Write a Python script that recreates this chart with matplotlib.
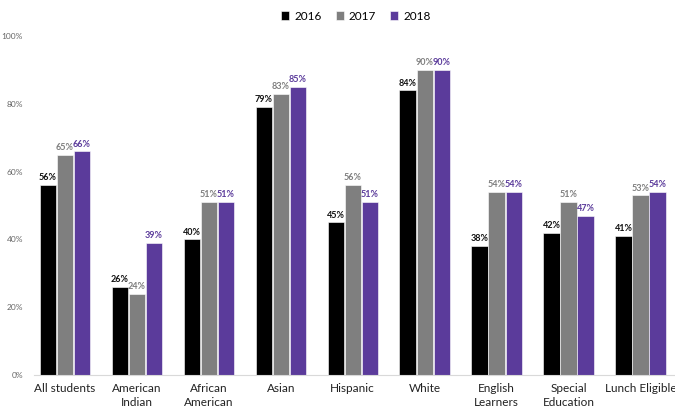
import matplotlib
matplotlib.use("Agg")
import matplotlib.pyplot as plt
import numpy as np

categories = ["All students", "American\nIndian", "African\nAmerican", "Asian", "Hispanic",
              "White", "English\nLearners", "Special\nEducation", "Lunch Eligible"]
years = ["2016", "2017", "2018"]
v2016 = [56, 26, 40, 79, 45, 84, 38, 42, 41]
v2017 = [65, 24, 51, 83, 56, 90, 54, 51, 53]
v2018 = [66, 39, 51, 85, 51, 90, 54, 47, 54]
yticks = [0, 20, 40, 60, 80, 100]

colors = ["#000000", "#7f7f7f", "#5b3b9b"]
label_colors = ["#111111", "#7f7f7f", "#5b3b9b"]

plt.rcParams['font.family'] = ['Lato', 'DejaVu Sans']

fig = plt.figure(figsize=(6.75, 4.09), dpi=100)
ax = fig.add_axes([34/675, 1-375/409, 641/675, (375-36)/409])

x = np.arange(len(categories))
w = 0.225
series = [v2016, v2017, v2018]
for i, (vals, c) in enumerate(zip(series, colors)):
    offs = (i - 1) * (w + 0.012)
    ax.bar(x + offs, vals, w, color=c, label=years[i], edgecolor="white", linewidth=0.4)
    for xi, v in zip(x + offs, vals):
        ax.text(xi, v + 0.8, f"{v}%", ha="center", va="bottom", fontsize=6.5,
                color=label_colors[i], fontweight="bold")

ax.set_xlim(-0.43, 8.48)
ax.set_ylim(0, 100)
ax.set_yticks(yticks)
ax.set_yticklabels([f"{t}%" for t in yticks], fontsize=6, color="#666666")
ax.set_xticks(x)
ax.set_xticklabels(categories, fontsize=8.5, color="#222222", linespacing=1.3)
ax.tick_params(axis="both", length=0)
ax.tick_params(axis="y", pad=8)
ax.tick_params(axis="x", pad=6)
for s in ["top", "right", "left"]:
    ax.spines[s].set_visible(False)
ax.spines["bottom"].set_color("#d9d9d9")

fig.legend(loc="upper center", bbox_to_anchor=(0.527, 1.0), ncol=3, frameon=False,
           fontsize=8.5, handlelength=0.7, handleheight=0.7, handletextpad=0.4, columnspacing=1.2)

fig.savefig("out.png", dpi=100, facecolor="white")
